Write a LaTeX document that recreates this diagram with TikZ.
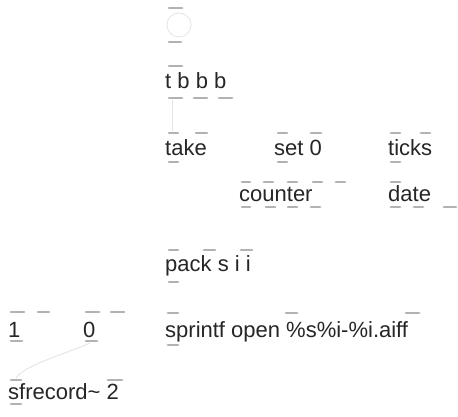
\documentclass[tikz,border=0pt]{standalone}
\usepackage{fontspec}
\setmainfont{Liberation Sans}
\begin{document}
\begin{tikzpicture}[x=1pt,y=-1pt,
  obj/.style={anchor=base west,inner sep=0pt,font=\fontsize{22}{26}\selectfont,text=black!85},
  io/.style={line width=2.8pt,line cap=round,draw=gray!60},
  wire/.style={draw=gray!22,line width=0.8pt}]
\useasboundingbox[fill=white] (0,0) rectangle (458,417);
% bang
\node[circle,draw=gray!20,line width=0.8pt,minimum size=24pt,inner sep=0pt] (bng) at (179,25) {};
\draw[io] (169,8)--(182,8);
\draw[io] (169,42)--(181,42);
% t b b b
\node[obj] (tbbb) at (165,89) {t b b b};
\draw[io] (169,66)--(182,66);
\foreach \a/\b in {169/182,194/207,219/232}{\draw[io] (\a,98)--(\b,98);}
% take
\node[obj] (take) at (165,156) {take};
\draw[io] (169,133)--(178,133); \draw[io] (196,133)--(207,133);
\draw[io] (169,162)--(178,162);
% set 0
\node[obj] (set) at (274,156) {set 0};
\draw[io] (278,133)--(287,133); \draw[io] (311,133)--(321,133);
\draw[io] (278,162)--(287,162);
% ticks
\node[obj] (ticks) at (388,156) {ticks};
\draw[io] (391,133)--(400,133); \draw[io] (421,133)--(430,133);
\draw[io] (391,162)--(400,162);
% counter
\node[obj] (counter) at (239,201) {counter};
\foreach \a/\b in {242/250,264/273,288/297,313/322,336/345}{\draw[io] (\a,182)--(\b,182);}
\foreach \a/\b in {242/250,266/275,288/297,311/320}{\draw[io] (\a,207)--(\b,207);}
% date
\node[obj] (date) at (388,201) {date};
\draw[io] (391,182)--(400,182);
\foreach \a/\b in {391/400,414/423,444/456}{\draw[io] (\a,207)--(\b,207);}
% pack
\node[obj] (pack) at (165,271) {pack s i i};
\foreach \a/\b in {169/178,204/215,241/252}{\draw[io] (\a,250)--(\b,250);}
\draw[io] (169,282)--(178,282);
% sprintf
\node[obj] (spr) at (165,337) {sprintf open \%s\%i-\%i.aiff};
\foreach \a/\b in {168/178,286/297,406/419}{\draw[io] (\a,313)--(\b,313);}
\draw[io] (168,345)--(178,345);
% 1 and 0
\node[obj] (one) at (8,337) {1};
\draw[io] (11,312)--(24,312); \draw[io] (38,312)--(49,312);
\draw[io] (11,341)--(22,341);
\node[obj] (zero) at (83,337) {0};
\draw[io] (86,312)--(99,312); \draw[io] (111,312)--(124,312);
\draw[io] (86,341)--(97,341);
% sfrecord
\node[obj] (sfr) at (8,399) {sfrecord\char126\ 2};
\draw[io] (11,380)--(21,380); \draw[io] (108,380)--(122,380);
\draw[io] (11,404)--(21,404);
% faint wires
\coordinate (zo) at (90,343);
\coordinate (si) at (16,378);
\draw[wire] (zo) .. controls (60,356) and (25,365) .. (si);
\coordinate (to) at (172,100);
\coordinate (ti) at (172,131);
\draw[wire] (to)--(ti);
\end{tikzpicture}
\end{document}
